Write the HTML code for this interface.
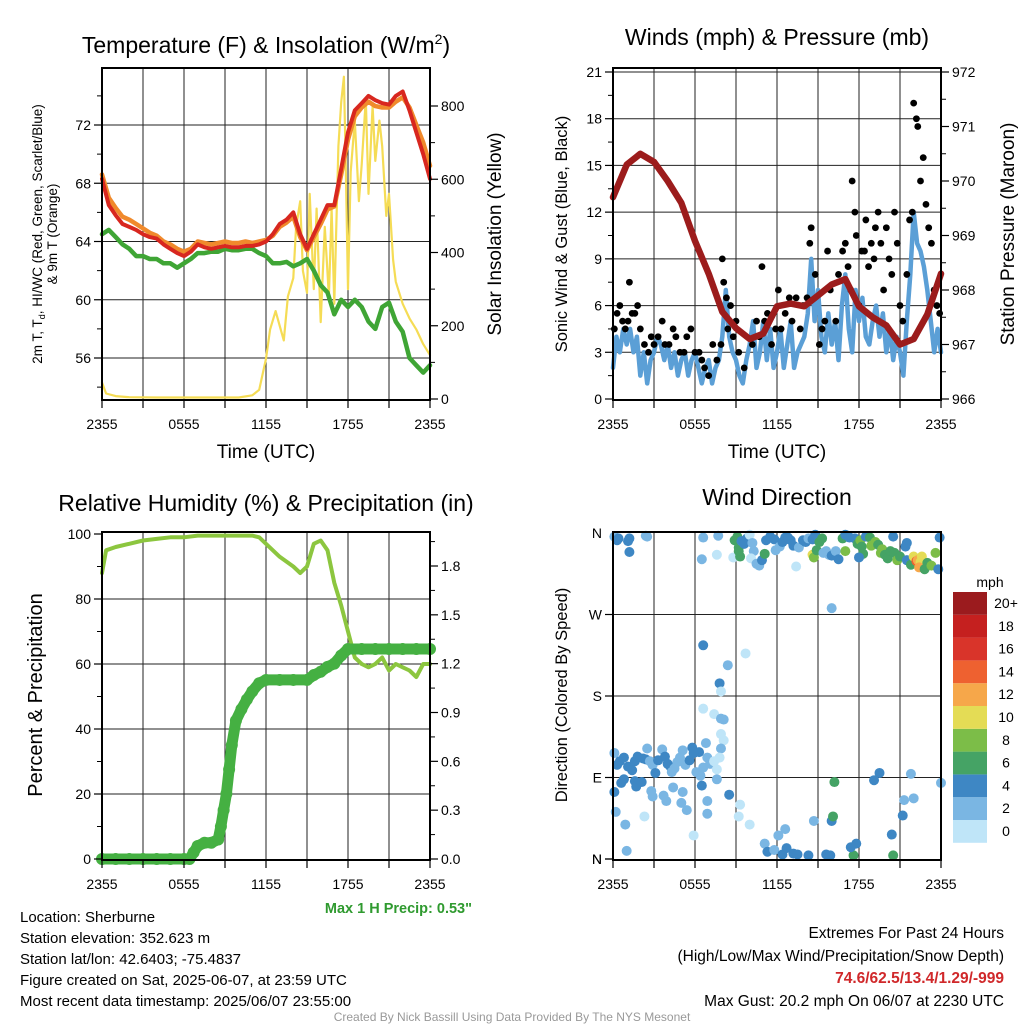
<!DOCTYPE html>
<html><head><meta charset="utf-8">
<style>
html,body{margin:0;padding:0;background:#fff;}
body{width:1024px;height:1024px;position:relative;overflow:hidden;font-family:"Liberation Sans",Arial,sans-serif;}
svg text{font-family:"Liberation Sans",Arial,sans-serif;}
</style></head>
<body>
<svg id="chart" width="1024" height="1024" viewBox="0 0 1024 1024" xmlns="http://www.w3.org/2000/svg">
<g id="grids"></g>
<g id="marks"></g>
<g id="axes"></g>
<g id="labels">
  <text x="266" y="53" font-size="23" text-anchor="middle">Temperature (F) &amp; Insolation (W/m<tspan font-size="14" dy="-9">2</tspan><tspan dy="9">)</tspan></text>
  <text x="777" y="45" font-size="23" text-anchor="middle">Winds (mph) &amp; Pressure (mb)</text>
  <text x="266" y="511" font-size="23" text-anchor="middle">Relative Humidity (%) &amp; Precipitation (in)</text>
  <text x="777" y="505" font-size="23" text-anchor="middle">Wind Direction</text>
  <text x="266" y="458" font-size="19" text-anchor="middle">Time (UTC)</text>
  <text x="777" y="458" font-size="19" text-anchor="middle">Time (UTC)</text>
  <text transform="translate(42,234) rotate(-90)" font-size="13.5" text-anchor="middle">2m T, T<tspan font-size="9" dy="3">d</tspan><tspan dy="-3">, HI/WC (Red, Green, Scarlet/Blue)</tspan></text>
  <text transform="translate(57,234) rotate(-90)" font-size="13.5" text-anchor="middle">&amp; 9m T (Orange)</text>
  <text transform="translate(501,234) rotate(-90)" font-size="19" text-anchor="middle">Solar Insolation (Yellow)</text>
  <text transform="translate(567,234) rotate(-90)" font-size="16.5" text-anchor="middle">Sonic Wind &amp; Gust (Blue, Black)</text>
  <text transform="translate(1014,234) rotate(-90)" font-size="19" text-anchor="middle">Station Pressure (Maroon)</text>
  <text transform="translate(42,695) rotate(-90)" font-size="20" text-anchor="middle">Percent &amp; Precipitation</text>
  <text transform="translate(567,695) rotate(-90)" font-size="16.5" text-anchor="middle">Direction (Colored By Speed)</text>
  <text x="472" y="913" font-size="14.5" font-weight="bold" fill="#2f9a2f" text-anchor="end">Max 1 H Precip: 0.53"</text>
  <text x="20" y="922" font-size="15">Location: Sherburne</text>
  <text x="20" y="943" font-size="15">Station elevation: 352.623 m</text>
  <text x="20" y="964" font-size="15">Station lat/lon: 42.6403; -75.4837</text>
  <text x="20" y="985" font-size="15">Figure created on Sat, 2025-06-07, at 23:59 UTC</text>
  <text x="20" y="1006" font-size="15">Most recent data timestamp: 2025/06/07 23:55:00</text>
  <text x="1004" y="938" font-size="15.5" text-anchor="end">Extremes For Past 24 Hours</text>
  <text x="1004" y="961" font-size="15.5" text-anchor="end">(High/Low/Max Wind/Precipitation/Snow Depth)</text>
  <text x="1004" y="983" font-size="15.5" font-weight="bold" fill="#d0282a" text-anchor="end">74.6/62.5/13.4/1.29/-999</text>
  <text x="1004" y="1006" font-size="15.5" text-anchor="end">Max Gust: 20.2 mph On 06/07 at 2230 UTC</text>
  <text x="512" y="1021" font-size="12" fill="#999" text-anchor="middle">Created By Nick Bassill Using Data Provided By The NYS Mesonet</text>
  <text x="990" y="587" font-size="14" text-anchor="middle">mph</text>
</g>
</svg>
<script>
// ---------- data ----------
var timeTicks = ["2355","0555","1155","1755","2355"];
var tempTicks = [56,60,64,68,72];
var solarTicks = [0,200,400,600,800];
var mphTicks = [0,3,6,9,12,15,18,21];
var mbTicks = [966,967,968,969,970,971,972];
var pctTicks = [0,20,40,60,80,100];
var inTicks = ["0.0","0.3","0.6","0.9","1.2","1.5","1.8"];
var dirTicks = ["N","E","S","W","N"];
var speedBins = ["0","2","4","6","8","10","12","14","16","18","20+"];
var binColors = ["#bfe5f8","#7ab6e3","#3e87c4","#45a365","#7cbd48","#e4dc55","#f6a74a","#ee6130","#d9342a","#c5201f","#9b1b1e"];

// half-hourly (0..24 h)
var tempRed = [68.3,66.5,65.8,65.2,65,64.8,64.5,64.3,64.2,63.8,63.5,63.2,63,63.3,63.8,63.6,63.5,63.6,63.7,63.6,63.6,63.7,63.7,63.8,64,64.5,65.2,65.5,66,64.5,63.5,64.5,65.5,66.5,66.5,69,71.5,73,73.5,74,73.7,73.5,73.4,74,74.3,73,71.5,70,68.3];
var tempOrange = [68.6,67,66.3,65.7,65.5,65.2,64.9,64.6,64.4,64,63.8,63.5,63.3,63.5,64,63.9,63.8,63.9,64,63.9,63.9,64,63.9,64,64.1,64.4,65,65.3,65.7,64.3,63.4,64.3,65.2,66.2,66.4,68.6,71,72.6,73.2,73.6,73.3,73.2,73.2,73.6,73.9,73.2,72,70.8,69.2];
var tempGreen = [64.5,64.8,64.3,63.8,63.5,63,63,62.8,62.8,62.5,62.5,62.2,62.5,62.8,63.2,63.2,63.3,63.3,63.5,63.4,63.4,63.5,63.5,63.2,63,62.5,62.5,62.6,62.3,62.5,62.8,62,61,60.5,59,60,59.5,60,59.5,58.5,58,59.5,59.8,58.5,57.8,56,55.5,55,55.5];
var solarHours = [0,0.3,1,2,4,6,8,10,11,11.5,12,12.3,12.7,13,13.3,13.6,14,14.2,14.5,14.7,15,15.2,15.5,15.7,16,16.3,16.6,16.8,17,17.3,17.5,17.7,17.8,18,18.2,18.5,18.8,19,19.3,19.5,19.8,20,20.3,20.5,20.8,21,21.3,21.5,22,22.5,23,23.5,24];
var solarValues = [45,15,8,5,4,4,4,4,10,25,110,190,240,200,160,280,330,470,540,350,290,560,300,520,210,470,280,520,260,690,810,880,700,300,620,760,540,640,820,560,800,650,760,690,500,560,380,320,260,220,190,150,120];

// 15-min wind speed
var windSpeed = [2,4,3,4.5,3.5,4.5,3,4,1.5,3,1,2.5,3,4,3.5,2.5,3.5,2,3,1.5,2.5,3,1.5,2.5,3,2,1,2,2.5,1,2,2.5,4,7,4,3,2.5,1.5,1,2.5,3.5,5,2,3,5,2.5,4.5,2,3,4.5,2,3.5,5,2,3,3.5,4,5.5,9,5,7,4,3,5.5,3.5,5,2.5,6,8,4.5,3,7,5,6.5,4,3.5,5,6,4,5.5,3,4.5,2.5,4,3,1.5,5,8,12,10,9.5,8.5,7,5,3,4.5,3];
var gustHours = [0.1,0.3,0.5,0.7,0.9,1.1,1.2,1.4,1.6,1.8,2.0,2.3,2.6,2.8,3.0,3.3,3.6,3.8,4.1,4.4,4.6,4.9,5.2,5.4,5.7,6.0,6.3,6.5,6.7,7.0,7.3,7.6,7.9,8.0,8.1,8.3,8.4,8.6,8.8,9.0,9.2,9.6,10.2,10.5,10.7,10.9,11.1,11.3,11.6,11.9,12.1,12.3,12.6,12.9,13.1,13.4,13.7,13.9,14.2,14.4,14.5,14.8,15.1,15.3,15.5,15.7,15.9,16.3,16.5,16.8,17.0,17.2,17.4,17.5,17.7,17.8,18.0,18.2,18.4,18.5,18.7,18.9,19.1,19.2,19.4,19.6,19.8,20.0,20.2,20.4,20.6,20.8,21.0,21.2,21.5,21.7,21.9,22.0,22.2,22.3,22.5,22.7,22.9,23.1,23.3,23.5,23.7,23.9];
var gustValues = [4.5,5.5,6,5,4.5,5,7.5,5.5,5.5,6,4.5,3.5,3,4,3.5,4,5,3.5,3.5,4.5,4,3,3,4,4.5,3,3,2.5,2,1.5,3.5,2.5,3.5,9,7.5,6.5,4.5,6,4,5,3,2,3.5,5,4,8.5,5,5.5,3.5,4.5,7,4.5,5.5,6.5,5,6.5,4.5,6,6.5,10,11,8,3.5,4.5,5,9.5,7,5,8,9.5,10,8.5,7,14,12,10.5,6,9.5,9.5,11.5,8.5,10,9,11,12,10,7,11,9,8,12,10,6,5,8,11.5,12,19,18,17.5,14,15.5,12.5,11,10,7,6,5.5];
var pressureValues = [969.7,970.3,970.5,970.35,970.0,969.6,968.9,968.3,967.6,967.3,967.1,967.2,967.7,967.75,967.7,967.9,968.1,968.2,967.7,967.5,967.35,967.0,967.1,967.55,968.3];

// RH and precip
var rhHours = [0,0.3,1,2,3,4,5,6,7,8,9,10,11,11.5,12,13,14,14.5,15,15.5,16,16.5,17,17.5,18,18.5,19,19.5,20,20.5,21,21.5,22,22.5,23,23.5,24];
var rhValues = [88,95,96,97,98,98.5,99,99,99.5,99.5,99.5,99.5,99.5,99,97,93,90,88,90,97,98,95,85,78,70,62,60,59,60,62,58,60,59,58,56,60,60];
var precipHours = [0,1,2,3,4,5,6,6.4,6.7,7,7.5,8,8.5,8.7,8.9,9.1,9.3,9.5,9.8,10.2,10.6,11,11.5,12,13,14,15,15.5,16,16.5,17,17.5,18,19,20,21,22,23,24];
var precipValues = [0,0,0,0,0,0,0,0,0.04,0.08,0.1,0.1,0.12,0.2,0.3,0.4,0.55,0.7,0.85,0.92,0.98,1.03,1.08,1.1,1.1,1.1,1.1,1.13,1.15,1.18,1.2,1.25,1.29,1.29,1.29,1.29,1.29,1.29,1.29];

// wind direction dots
var dirHours = [0.1,0.3,0.4,1.1,1.2,1.2,2.4,2.5,6.6,7.6,6.5,7.7,8.8,8.9,9.1,9.2,9.3,9.2,9.4,9.6,9.8,10.0,10.2,10.3,10.1,10.5,10.7,10.9,11.1,11.2,11.5,11.8,11.9,12.2,12.4,12.6,12.8,13.0,13.2,13.4,13.6,13.9,14.1,14.3,14.6,14.8,14.6,14.7,14.9,15.1,15.3,15.4,15.6,15.8,16.0,16.3,16.5,16.8,17.0,17.2,17.0,17.3,17.7,17.9,18.1,18.2,18.3,18.0,18.5,18.8,18.9,19.2,19.4,19.6,19.7,19.9,20.1,20.3,20.5,20.6,20.8,21.0,21.4,21.5,21.5,21.8,22.0,22.2,22.3,22.5,22.6,22.4,22.8,23.0,23.3,23.6,23.8,23.9,
 16.0,6.6,8.4,7.8,9.7,7.9,7.4,7.9,6.6,8.1,7.9,8.1,7.9,6.8,6.3,5.8,
 0.1,0.3,0.5,0.8,1.1,1.4,1.6,1.8,2.2,2.4,2.5,2.7,2.9,3.1,3.3,3.6,3.8,4.0,4.2,4.3,4.5,4.7,4.9,5.1,5.3,5.6,5.9,6.1,6.4,6.6,6.9,7.1,7.4,7.6,7.8,7.6,
 0.1,0.2,0.9,1.0,0.6,0.8,1.6,1.7,2.1,2.9,2.8,2.3,3.7,3.9,4.4,5.0,5.1,5.4,5.9,6.5,6.9,6.9,8.5,9.3,9.2,10.0,11.1,11.3,11.8,12.1,12.6,12.4,12.7,13.2,13.5,14.3,14.7,15.6,15.9,16.0,16.2,16.1,17.6,17.4,17.8,19.5,19.1,20.5,20.4,21.2,21.3,21.8,22.0,24];
var dirDegrees = [356,352,354,351,354,339,357,356,355,336,331,357,333,352,356,344,334,340,351,348,354,358,349,340,332,326,324,330,337,352,356,353,341,345,350,355,355,352,346,323,344,352,350,354,353,358,336,333,341,350,354,338,340,336,335,340,331,354,358,357,340,355,354,348,352,345,337,333,356,355,346,350,347,338,342,336,332,340,356,338,330,334,345,349,330,325,334,329,330,328,334,322,320,327,324,338,320,355,
 277,236,214,194,227,185,160,155,166,154,138,131,122,128,118,123,
 117,104,108,112,102,98,108,113,111,110,122,108,104,95,109,121,113,105,102,96,100,107,112,120,104,109,117,96,92,101,112,105,108,99,112,88,
 74,52,38,9,84,88,86,80,85,69,75,47,70,64,79,62,74,54,26,81,64,50,71,60,47,38,17,8,10,26,33,5,12,6,5,4,42,5,4,42,85,47,4,13,17,95,87,4,27,48,65,94,67,84];
var dirSpeeds = [3,4,4,4,4,4,2,2,2,0,2,2,0,6,6,6,6,6,4,4,4,0,2,2,0,2,2,4,6,4,4,4,2,2,4,4,4,4,4,0,2,4,4,2,4,4,10,8,6,6,6,2,2,2,4,2,4,6,4,4,8,4,4,6,8,6,6,4,4,6,8,8,6,8,8,6,6,6,4,6,8,6,4,4,4,6,10,14,12,10,10,12,6,6,8,8,4,4,
 2,4,2,4,0,0,0,2,0,2,0,0,2,2,4,4,
 2,4,4,4,4,4,4,4,4,4,2,2,2,4,4,2,4,4,4,2,2,2,2,2,2,4,4,2,2,2,2,2,0,0,0,2,
 4,2,2,2,4,4,4,4,4,2,2,0,2,2,2,2,2,2,0,4,2,2,4,0,0,0,2,4,2,2,2,4,4,4,4,4,2,4,4,4,6,6,6,4,4,4,4,6,4,4,2,2,2,2];

// ---------- helpers ----------
var NS = "http://www.w3.org/2000/svg";
function mk(parent, tag, attrs){var e=document.createElementNS(NS,tag);for(var k in attrs)e.setAttribute(k,attrs[k]);document.getElementById(parent).appendChild(e);return e;}
function xScale(x0,x1){return function(h){return x0+(x1-x0)*h/24;};}
function yScale(v0,v1,p0,p1){return function(v){return p0+(p1-p0)*(v-v0)/(v1-v0);};}

var P = {
 temp:{x0:102,x1:430,y0:68,y1:400},
 wind:{x0:613,x1:941,y0:68,y1:400},
 rh:{x0:102,x1:430,y0:532,y1:860},
 dir:{x0:613,x1:941,y0:532,y1:860}
};
var xT=xScale(102,430), xW=xScale(613,941);
var yTemp=yScale(56,72,358,125), ySolar=yScale(0,800,399,106);
var yMph=yScale(0,21,399,72), yMb=yScale(966,972,399,72);
var yPct=yScale(0,100,859,534), yIn=yScale(0,1.8,859,566);
var yDir=yScale(0,360,859,533);

function frameAndGrid(name,p,hLines){
  var i,e;
  for(i=1;i<8;i++){
    var x=p.x0+(p.x1-p.x0)*i/8;
    e=mk("grids","line",{x1:x,x2:x,y1:p.y0,y2:p.y1,stroke:"#222","stroke-width":1});
    
    
  }
  hLines.forEach(function(y){
    e=mk("grids","line",{x1:p.x0,x2:p.x1,y1:y,y2:y,stroke:"#222","stroke-width":1});
    
    
  });
  e=mk("axes","rect",{x:p.x0,y:p.y0,width:p.x1-p.x0,height:p.y1-p.y0,fill:"none",stroke:"#000","stroke-width":2});
  
  
  for(i=0;i<=8;i++){
    var xx=p.x0+(p.x1-p.x0)*i/8;
    e=mk("axes","line",{x1:xx,x2:xx,y1:p.y1,y2:p.y1+8,stroke:"#000","stroke-width":1.2});
    
    
  }
  timeTicks.forEach(function(t,i){
    e=mk("axes","text",{x:p.x0+(p.x1-p.x0)*i/4,y:p.y1+29,"font-size":14,"text-anchor":"middle"});
    e.textContent=t;
    
    
  });
}
function yTicks(name,labels,posFn,side,p,minorFn){
  labels.forEach(function(l){
    var y=posFn(l), x=side==="left"?p.x0:p.x1, d=side==="left"?-8:8;
    var e=mk("axes","line",{x1:x,x2:x+d,y1:y,y2:y,stroke:"#000","stroke-width":1.2});
    
    
    e=mk("axes","text",{x:side==="left"?x-11:x+11,y:y+5,"font-size":14,"text-anchor":side==="left"?"end":"start"});
    e.textContent=l;
    
    
  });
  if(minorFn){minorFn.forEach(function(v){
    var y=posFn(v), x=side==="left"?p.x0:p.x1, d=side==="left"?-5:5;
    var e=mk("axes","line",{x1:x,x2:x+d,y1:y,y2:y,stroke:"#000","stroke-width":1});
    
    
  });}
}
function path(name,xs,ys,color,w){
  var d=xs.map(function(x,i){return (i?"L":"M")+x.toFixed(1)+","+ys[i].toFixed(1);}).join("");
  var e=mk("marks","path",{d:d,fill:"none",stroke:color,"stroke-width":w,"stroke-linejoin":"round","stroke-linecap":"round"});
  
  
  return e;
}
function halfHours(n){var a=[];for(var i=0;i<n;i++)a.push(i*24/(n-1));return a;}

// ---------- panel 1 ----------
frameAndGrid("temp",P.temp,tempTicks.map(yTemp));
yTicks("temp-y",tempTicks,yTemp,"left",P.temp,[54,58,62,66,70,74]);
yTicks("solar-y",solarTicks,ySolar,"right",P.temp,[100,300,500,700]);
var hh=halfHours(tempRed.length);
path("solar-insolation-line",solarHours.map(xT),solarValues.map(ySolar),"#f5dc55",2.2);
path("dewpoint-green-line",hh.map(xT),tempGreen.map(yTemp),"#3fa535",4.5);
path("temp-9m-orange-line",hh.map(xT),tempOrange.map(yTemp),"#f08a2c",4.5);
path("temp-2m-red-line",hh.map(xT),tempRed.map(yTemp),"#d8271f",4);

// ---------- panel 2 ----------
frameAndGrid("wind",P.wind,mphTicks.slice(1).map(yMph));
yTicks("mph-y",mphTicks,yMph,"left",P.wind,[1.5,4.5,7.5,10.5,13.5,16.5,19.5]);
yTicks("mb-y",mbTicks,yMb,"right",P.wind,[966.5,967.5,968.5,969.5,970.5,971.5]);
var qh=halfHours(windSpeed.length);
path("sonic-wind-line",qh.map(xW),windSpeed.map(yMph),"#5b9fd6",4.5);
gustHours.forEach(function(h,i){
  var e=mk("marks","circle",{cx:xW(h),cy:yMph(gustValues[i]),r:3.4,fill:"#000"});
  
  
});
var ph=halfHours(pressureValues.length);
path("station-pressure-line",ph.map(xW),pressureValues.map(yMb),"#9c1c1c",6.5);

// ---------- panel 3 ----------
frameAndGrid("rh",P.rh,[20,40,60,80].map(yPct));
yTicks("pct-y",pctTicks,yPct,"left",P.rh,[10,30,50,70,90]);
yTicks("in-y",inTicks,function(v){return yIn(parseFloat(v));},"right",P.rh,[0.15,0.45,0.75,1.05,1.35,1.65,1.95]);
path("relative-humidity-line",rhHours.map(xT),rhValues.map(yPct),"#8cc63f",4);
path("precip-accum-line",precipHours.map(xT),precipValues.map(yIn),"#45b042",11);
precipHours.forEach(function(h,i){
  var e=mk("marks","circle",{cx:xT(h),cy:yIn(precipValues[i]),r:6,fill:"#45b042"});
  
  
});

// ---------- panel 4 ----------
frameAndGrid("dir",P.dir,[90,180,270].map(yDir));
yTicks("dir-y",dirTicks,function(l){return yDir({"N":0,"E":90,"S":180,"W":270}[l]);},"left",P.dir,null);
(function(){var e=mk("axes","text",{x:P.dir.x0-11,y:yDir(360)+5,"font-size":14,"text-anchor":"end"});e.textContent="N";

})();
dirHours.forEach(function(h,i){
  var b=Math.min(10,Math.floor(dirSpeeds[i]/2));
  var e=mk("marks","circle",{cx:xW(h),cy:yDir(dirDegrees[i]),r:5,fill:binColors[b]});
  
  
});
// colorbar
speedBins.forEach(function(l,i){
  var e=mk("axes","rect",{x:953,y:820-i*22.8,width:34,height:22.8,fill:binColors[i]});
  
  
  e=mk("axes","text",{x:1006,y:820-i*22.8+16,"font-size":14,"text-anchor":"middle"});
  e.textContent=l;
  
  
});
</script>
</body></html>
